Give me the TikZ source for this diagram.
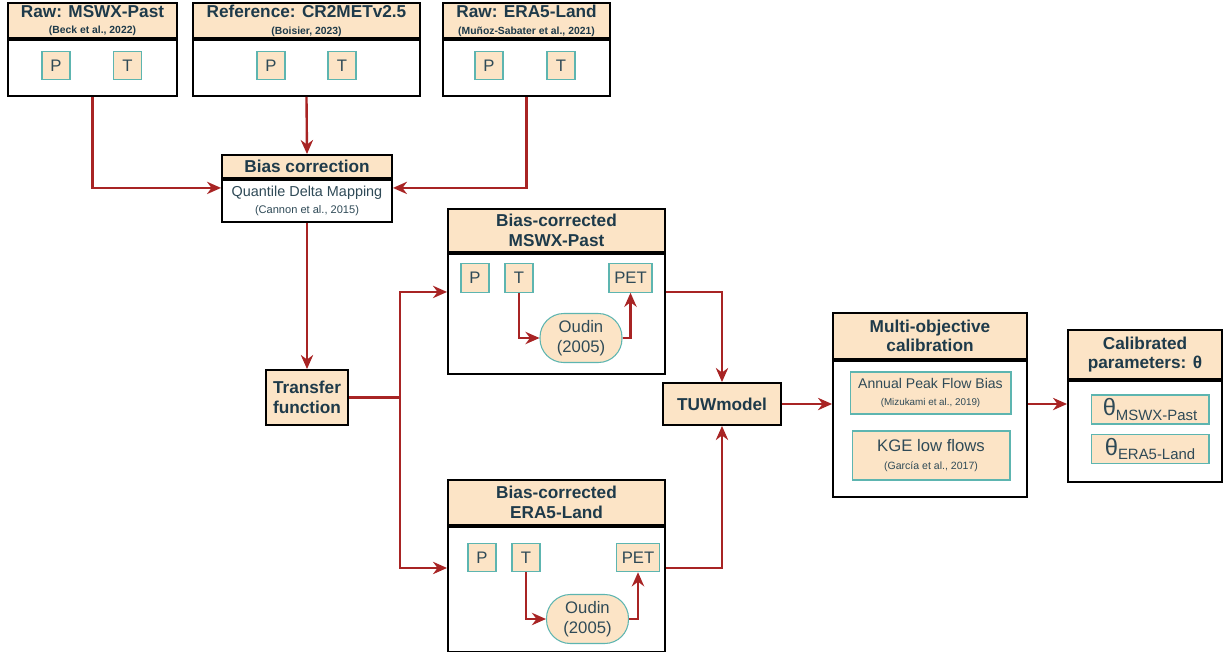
\documentclass[tikz,border=0pt]{standalone}
\usepackage{fontspec}
\setmainfont{Liberation Sans}
\usepackage{tikz}
\usetikzlibrary{positioning, arrows.meta}
\definecolor{headfill}{HTML}{FCE4C6}
\definecolor{boxline}{HTML}{5DB5B0}
\definecolor{arrowred}{HTML}{A82424}
\definecolor{titletext}{HTML}{1E3A4A}
\definecolor{bodytext}{HTML}{2F4A57}
\tikzstyle{head} = [rectangle, draw=black, line width=1.1pt, fill=headfill, text=titletext, align=center, inner sep=0pt, font=\fontsize{9.8}{11}\selectfont\bfseries]
\tikzstyle{panel} = [rectangle, draw=black, line width=1.1pt, fill=white, inner sep=0pt]
\tikzstyle{var} = [rectangle, draw=boxline, line width=0.6pt, fill=headfill, text=bodytext, minimum width=0.56cm, minimum height=0.57cm, inner sep=0pt, font=\fontsize{9.5}{11}\selectfont]
\tikzstyle{oudin} = [rectangle, rounded corners=13.5pt, draw=boxline, line width=0.6pt, fill=headfill, text=bodytext, minimum width=1.64cm, minimum height=0.98cm, align=center, inner sep=0pt, font=\fontsize{9.5}{11.5}\selectfont]
\tikzstyle{metric} = [rectangle, draw=boxline, line width=0.6pt, fill=headfill, text=bodytext, align=center, inner sep=0pt]
\tikzstyle{arrow} = [line width=1.35pt, draw=arrowred, -{Stealth[length=8pt, width=7pt]}]
\tikzstyle{arrowline} = [line width=1.35pt, draw=arrowred]
\newcommand{\refsize}{\fontsize{5.9}{6.5}\selectfont}

\begin{document}
\begin{tikzpicture}[x=0.02cm, y=-0.02cm]
    \useasboundingbox (0,0) rectangle (1223,652);

    % raw and reference data
    \node (mswx-head) [head, minimum width=3.38cm, minimum height=0.70cm] at (92.5,20.5) {Raw: MSWX-Past\\[-1.5pt]{\refsize (Beck et al., 2022)}};
    \node (mswx-body) [panel, minimum width=3.38cm, minimum height=1.12cm, below=0pt of mswx-head] {};
    \node (mswx-p) [var] at (56,65.5) {P};
    \node (mswx-t) [var] at (127.5,65.5) {T};

    \node (ref-head) [head, minimum width=4.54cm, minimum height=0.70cm] at (306.5,20.5) {Reference: CR2METv2.5\\[-1.5pt]{\refsize (Boisier, 2023)}};
    \node (ref-body) [panel, minimum width=4.54cm, minimum height=1.12cm, below=0pt of ref-head] {};
    \node (ref-p) [var] at (271,65.5) {P};
    \node (ref-t) [var] at (342,65.5) {T};

    \node (era-head) [head, minimum width=3.34cm, minimum height=0.70cm] at (526.5,20.5) {Raw: ERA5-Land\\[-1.5pt]{\refsize (Muñoz-Sabater et al., 2021)}};
    \node (era-body) [panel, minimum width=3.34cm, minimum height=1.12cm, below=0pt of era-head] {};
    \node (era-p) [var] at (489,65.5) {P};
    \node (era-t) [var] at (561,65.5) {T};

    % bias correction
    \node (bias-head) [head, minimum width=3.4cm, minimum height=0.46cm] at (307,166.5) {Bias correction};
    \node (bias-body) [panel, minimum width=3.4cm, minimum height=0.84cm, below=0pt of bias-head, align=center, text=bodytext, font=\fontsize{8.2}{10}\selectfont] {Quantile Delta Mapping\\{\fontsize{6.3}{7}\selectfont (Cannon et al., 2015)}};
    \node (transfer) [head, minimum width=1.64cm, minimum height=1.1cm] at (307,397.5) {Transfer\\function};

    % bias-corrected forcings
    \node (bcm-head) [head, minimum width=4.34cm, minimum height=0.86cm] at (556.5,230.5) {Bias-corrected\\MSWX-Past};
    \node (bcm-body) [panel, minimum width=4.34cm, minimum height=2.4cm, below=0pt of bcm-head] {};
    \node (bcm-p) [var] at (475,278) {P};
    \node (bcm-t) [var] at (519,278) {T};
    \node (bcm-pet) [var, minimum width=0.86cm] at (630.5,278) {PET};
    \node (bcm-oudin) [oudin] at (581,338) {Oudin\\(2005)};

    \node (bce-head) [head, minimum width=4.34cm, minimum height=0.9cm] at (556.5,502.5) {Bias-corrected\\ERA5-Land};
    \node (bce-body) [panel, minimum width=4.34cm, minimum height=2.5cm, below=0pt of bce-head] {};
    \node (bce-p) [var] at (482,557.5) {P};
    \node (bce-t) [var] at (526,557.5) {T};
    \node (bce-pet) [var, minimum width=0.86cm] at (638,557.5) {PET};
    \node (bce-oudin) [oudin] at (587.5,619) {Oudin\\(2005)};

    % model and calibration
    \node (tuw) [head, minimum width=2.36cm, minimum height=0.84cm] at (722,404) {TUWmodel};

    \node (multi-head) [head, minimum width=3.88cm, minimum height=0.92cm] at (930,336) {Multi-objective\\calibration};
    \node (multi-body) [panel, minimum width=3.88cm, minimum height=2.72cm, below=0pt of multi-head] {};
    \node (peak) [metric, minimum width=3.22cm, minimum height=0.84cm, font=\fontsize{8}{9.5}\selectfont] at (930.5,393) {Annual Peak Flow Bias\\{\fontsize{5.6}{6.5}\selectfont (Mizukami et al., 2019)}};
    \node (kge) [metric, minimum width=3.16cm, minimum height=0.98cm, font=\fontsize{9.5}{10.5}\selectfont] at (931,455.5) {KGE low flows\\{\fontsize{6}{7}\selectfont (García et al., 2017)}};

    \node (calib-head) [head, minimum width=3.08cm, minimum height=0.98cm] at (1145,354.5) {Calibrated\\parameters: θ};
    \node (calib-body) [panel, minimum width=3.08cm, minimum height=2.02cm, below=0pt of calib-head] {};
    \node (theta-mswx) [metric, minimum width=2.36cm, minimum height=0.58cm, font=\fontsize{13.5}{14}\selectfont] at (1150,409.5) {θ\raisebox{-0.35ex}{\fontsize{8.5}{9}\selectfont MSWX-Past}};
    \node (theta-era) [metric, minimum width=2.36cm, minimum height=0.58cm, font=\fontsize{13.5}{14}\selectfont] at (1150,449) {θ\raisebox{-0.35ex}{\fontsize{8.5}{9}\selectfont ERA5-Land}};

    % connectors
    \draw [arrow] (mswx-body.south) |- ([yshift=7.4pt]bias-body.west);
    \draw [arrow] (ref-body.south) -- (bias-head.north);
    \draw [arrow] (era-body.south) |- ([yshift=7.4pt]bias-body.east);
    \draw [arrow] (bias-body.south) -- (transfer.north);

    \coordinate (split) at (400,397.5);
    \draw [arrowline] (transfer.east) -- (split);
    \draw [arrow] (split) |- ([yshift=12.5pt]bcm-body.west);
    \draw [arrow] (split) |- ([yshift=12.2pt]bce-body.west);

    \draw [arrow] (bcm-t.south) |- (bcm-oudin.west);
    \draw [arrow] (bcm-oudin.east) -| (bcm-pet.south);
    \draw [arrow] (bce-t.south) |- (bce-oudin.west);
    \draw [arrow] (bce-oudin.east) -| (bce-pet.south);

    \draw [arrow] ([yshift=12.5pt]bcm-body.east) -| (tuw.north);
    \draw [arrow] ([yshift=12.2pt]bce-body.east) -| (tuw.south);
    \draw [arrow] (tuw.east) -- (tuw.east -| multi-body.west);
    \draw [arrow] (tuw.east -| multi-body.east) -- (tuw.east -| calib-body.west);
\end{tikzpicture}
\end{document}
